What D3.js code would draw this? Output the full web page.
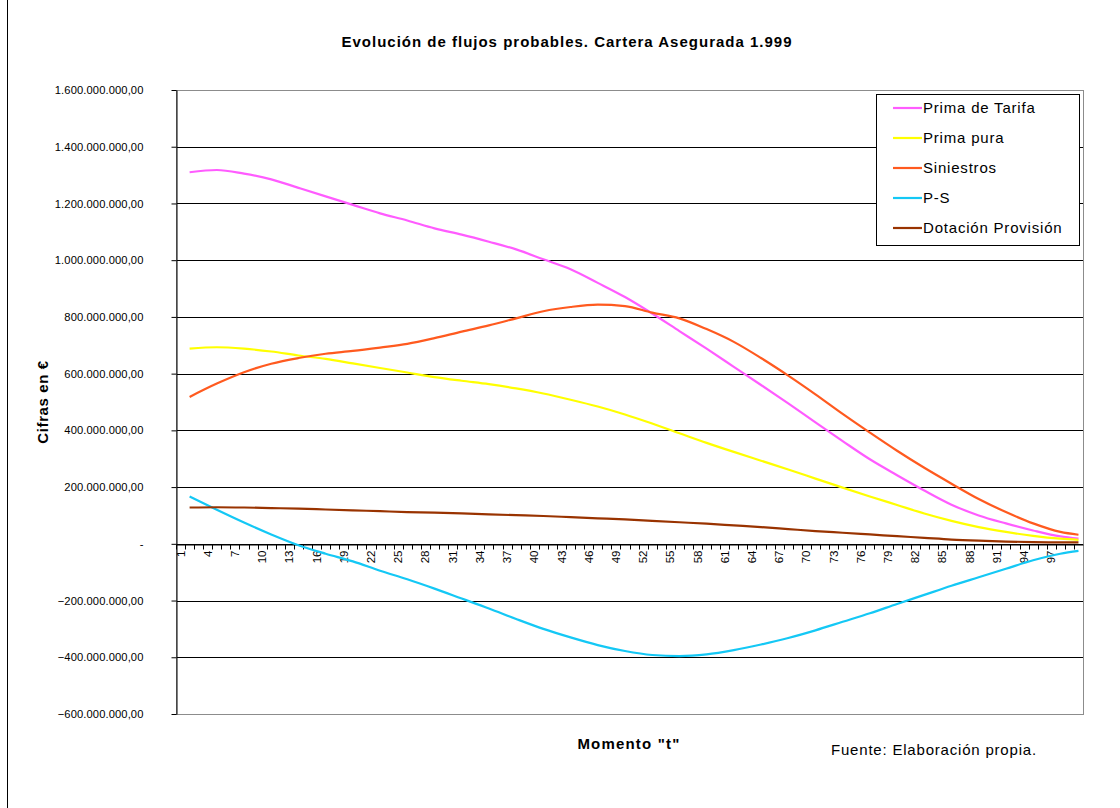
<!DOCTYPE html>
<html>
<head>
<meta charset="utf-8">
<script src="https://cdn.jsdelivr.net/npm/d3@7"></script>
<style>
  body { margin: 0; background: #fff; }
  text { font-family: "Liberation Sans", Arial, sans-serif; }
</style>
</head>
<body>
<svg id="chart"></svg>
<script>
// categories on the x axis (Momento "t")
const categories = d3.range(1, 101).map(String);
const tickLabels = d3.range(1, 98, 3).map(String);
const moments = [2, 5, 8, 11, 14, 17, 20, 23, 26, 29, 32, 35, 38, 41, 44, 47, 50, 53, 56, 59, 62, 65, 68, 71, 74, 77, 80, 83, 86, 89, 92, 95, 98, 100];

// values in millions of euros
const primaTarifa = [1310, 1318, 1305, 1285, 1255, 1225, 1195, 1165, 1140, 1112, 1090, 1065, 1038, 1003, 968, 920, 870, 812, 750, 688, 624, 560, 495, 428, 362, 298, 242, 188, 138, 100, 72, 47, 26, 18];
const primaPura = [688, 693, 688, 678, 664, 652, 636, 620, 604, 588, 575, 563, 548, 530, 508, 484, 456, 424, 390, 356, 324, 293, 262, 230, 198, 167, 137, 107, 81, 59, 42, 28, 18, 14];
const siniestros = [518, 565, 605, 635, 655, 670, 680, 692, 705, 725, 748, 770, 795, 820, 835, 843, 838, 815, 795, 757, 712, 655, 593, 527, 458, 392, 328, 268, 212, 158, 112, 72, 42, 32];
const pMenosS = [167, 120, 75, 33, -5, -35, -62, -95, -125, -158, -193, -228, -265, -300, -330, -357, -378, -392, -396, -390, -375, -355, -332, -305, -275, -245, -212, -180, -148, -118, -88, -58, -35, -25];
const dotacion = [128, 129, 128, 126, 124, 121, 118, 115, 112, 110, 107, 104, 101, 98, 94, 90, 86, 81, 76, 71, 65, 59, 52, 45, 39, 33, 27, 21, 15, 11, 8, 6, 5, 5];

const seriesNames = ["Prima de Tarifa", "Prima pura", "Siniestros", "P-S", "Dotación Provisión"];
const seriesColors = ["#ff5cff", "#ffff00", "#ff5a1f", "#14c8f5", "#993300"];
const seriesValues = [primaTarifa, primaPura, siniestros, pMenosS, dotacion];

const yTicks = [-600e6, -400e6, -200e6, 0, 200e6, 400e6, 600e6, 800e6, 1000e6, 1200e6, 1400e6, 1600e6];

const width = 1120, height = 808;
const plot = { left: 176, right: 1083, top: 90, bottom: 714 };

const svg = d3.select("#chart")
    .attr("width", width)
    .attr("height", height);

// chart area frame
svg.append("line").attr("x1", 7.5).attr("x2", 7.5).attr("y1", 0).attr("y2", height)
    .attr("stroke", "#000").attr("stroke-width", 1);

const x = d3.scaleBand()
    .domain(categories)
    .range([plot.left, plot.right])
    .padding(0);

const y = d3.scaleLinear()
    .domain([-600e6, 1600e6])
    .range([plot.bottom, plot.top]);

function formatEs(v) {
    if (v === 0) return "-";
    const s = d3.format(",.2f")(v);
    return s.replace(/,/g, "#").replace(".", ",").replace(/#/g, ".");
}

// gridlines
svg.append("g")
    .selectAll("line")
    .data(yTicks.filter(d => d !== 1600e6))
    .enter().append("line")
    .attr("x1", plot.left).attr("x2", plot.right)
    .attr("y1", d => Math.round(y(d)) + 0.5)
    .attr("y2", d => Math.round(y(d)) + 0.5)
    .attr("stroke", "#000")
    .attr("stroke-width", 1);

// plot area border
svg.append("rect")
    .attr("x", plot.left + 0.5).attr("y", plot.top + 0.5)
    .attr("width", plot.right - plot.left).attr("height", plot.bottom - plot.top)
    .attr("fill", "none")
    .attr("stroke", "#8c8c8c");

// y axis
const yAxis = svg.append("g")
    .attr("transform", `translate(${plot.left + 0.5},0)`)
    .call(d3.axisLeft(y).tickValues(yTicks).tickSize(5).tickSizeOuter(0).tickFormat(formatEs));
yAxis.select(".domain").attr("stroke", "#000");
yAxis.selectAll(".tick line").attr("stroke", "#000");
yAxis.selectAll(".tick text")
    .attr("x", -33)
    .attr("font-size", "11.2px")
    .attr("letter-spacing", "0.1px")
    .attr("font-family", "Liberation Sans, Arial, sans-serif")
    .attr("fill", "#000");

// x axis at zero
const xAxis = svg.append("g")
    .attr("transform", `translate(0,${Math.round(y(0)) + 0.5})`)
    .call(d3.axisBottom(x).tickValues(tickLabels).tickSize(0).tickSizeOuter(0));
xAxis.select(".domain").attr("stroke", "#000");
xAxis.selectAll(".tick text")
    .attr("font-size", "11.5px")
    .attr("font-family", "Liberation Sans, Arial, sans-serif")
    .attr("fill", "#000")
    .attr("text-anchor", "end")
    .attr("transform", "rotate(-90)")
    .attr("x", -6)
    .attr("y", 0)
    .attr("dy", "0.35em");

// minor tick marks at category boundaries
svg.append("g")
    .selectAll("line")
    .data(categories)
    .enter().append("line")
    .attr("x1", d => Math.round(x(d)) + 0.5)
    .attr("x2", d => Math.round(x(d)) + 0.5)
    .attr("y1", Math.round(y(0)) + 0.5)
    .attr("y2", Math.round(y(0)) + 5.5)
    .attr("stroke", "#000");

// series lines
const line = d3.line()
    .x(d => x(String(d.t)) + x.bandwidth() / 2)
    .y(d => y(d.v * 1e6))
    .curve(d3.curveMonotoneX);

seriesValues.forEach((vals, i) => {
    const pts = moments.map((t, j) => ({ t: t, v: vals[j] }));
    svg.append("path")
        .datum(pts)
        .attr("d", line)
        .attr("fill", "none")
        .attr("stroke", seriesColors[i])
        .attr("stroke-width", 2.2);
});

// legend
const legend = svg.append("g").attr("transform", "translate(876,94)");
legend.append("rect")
    .attr("x", 0.5).attr("y", 0.5)
    .attr("width", 203).attr("height", 151)
    .attr("fill", "#fff")
    .attr("stroke", "#000");
seriesNames.forEach((name, i) => {
    const cy = 14 + i * 30;
    legend.append("line")
        .attr("x1", 17).attr("x2", 46)
        .attr("y1", cy).attr("y2", cy)
        .attr("stroke", seriesColors[i])
        .attr("stroke-width", 2.2);
    legend.append("text")
        .attr("x", 47).attr("y", cy)
        .attr("dy", "0.36em")
        .attr("font-size", "15px")
        .attr("letter-spacing", "0.8px")
        .attr("fill", "#000")
        .text(name);
});

// titles
svg.append("text")
    .attr("x", 567).attr("y", 47)
    .attr("text-anchor", "middle")
    .attr("font-size", "15px")
    .attr("letter-spacing", "1px")
    .attr("font-weight", "bold")
    .text("Evolución de flujos probables. Cartera Asegurada 1.999");

svg.append("text")
    .attr("transform", "translate(48,402) rotate(-90)")
    .attr("text-anchor", "middle")
    .attr("font-size", "15px")
    .attr("letter-spacing", "0.6px")
    .attr("font-weight", "bold")
    .text("Cifras en €");

svg.append("text")
    .attr("x", 629).attr("y", 749)
    .attr("text-anchor", "middle")
    .attr("font-size", "15px")
    .attr("letter-spacing", "1.2px")
    .attr("font-weight", "bold")
    .text("Momento \"t\"");

svg.append("text")
    .attr("x", 831).attr("y", 755)
    .attr("font-size", "15px")
    .attr("letter-spacing", "0.8px")
    .text("Fuente: Elaboración propia.");
</script>
</body>
</html>
